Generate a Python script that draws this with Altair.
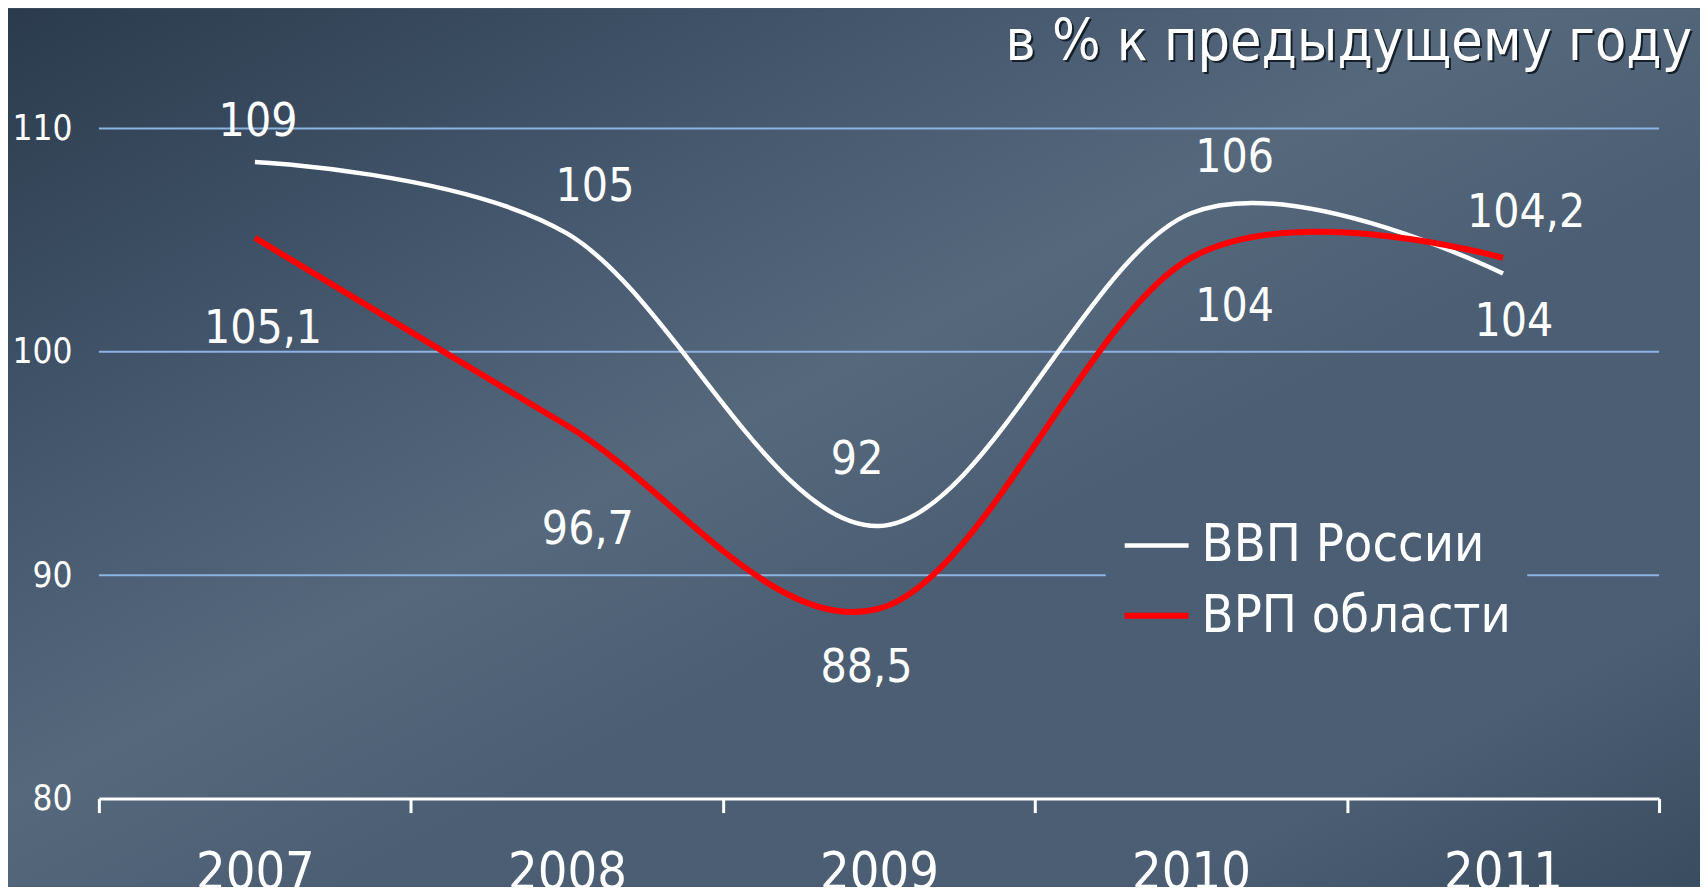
import altair as alt
import pandas as pd

# ---- data ----
years = [2007, 2008, 2009, 2010, 2011]
series_names = ["ВВП России", "ВРП области"]
gdp_russia = [108.5, 105.3, 92.2, 106.2, 103.5]
grp_region = [105.1, 96.7, 88.5, 104.2, 104.2]

label_text = ["109", "105", "92", "106", "104", "105,1", "96,7", "88,5", "104", "104,2"]
label_x = [2007.01, 2008.09, 2008.93, 2010.14, 2011.035, 2007.026, 2008.067, 2008.96, 2010.14, 2011.074]
label_y = [109.67, 106.77, 94.52, 108.03, 100.69, 100.41, 91.39, 85.21, 101.40, 105.57]

y_ticks = [80, 90, 100, 110]
grid_values = [90, 100, 110]
x_bounds = [2006.5, 2007.5, 2008.5, 2009.5, 2010.5, 2011.5]

title_text = ["в % к предыдущему году"]

FONT = "'DejaVu Sans Condensed', 'Liberation Sans', sans-serif"
W, H = 1562, 671
BG = "#46596e"
LEG_BG = "#4b5e73"

rows = []
for name, vals in zip(series_names, [gdp_russia, grp_region]):
    for yr, v in zip(years, vals):
        rows.append({"series": name, "year": yr, "value": v})
lines_df = pd.DataFrame(rows)
labels_df = pd.DataFrame({"text": label_text, "x": label_x, "y": label_y})
grid_df = pd.DataFrame({"g": grid_values})
title_df = pd.DataFrame({"t": title_text})
bg_df = pd.DataFrame({"a": [0]})

xscale = alt.Scale(domain=[x_bounds[0], x_bounds[-1]], nice=False, zero=False)
yscale = alt.Scale(domain=[y_ticks[0], y_ticks[-1]], nice=False, zero=False)

background = alt.Chart(bg_df).mark_rect(
    clip=False,
    color=alt.Gradient(
        gradient="linear", x1=0, y1=0, x2=1, y2=1,
        stops=[
            alt.GradientStop(offset=0, color="#2b3b4d"),
            alt.GradientStop(offset=0.3, color="#475a70"),
            alt.GradientStop(offset=0.45, color="#55687c"),
            alt.GradientStop(offset=0.6, color=LEG_BG),
            alt.GradientStop(offset=0.84, color=LEG_BG),
            alt.GradientStop(offset=1, color="#3a4c60"),
        ],
    ),
).encode(
    x=alt.value(-91), x2=alt.value(W + 41),
    y=alt.value(-120), y2=alt.value(H + 88),
)

grid = alt.Chart(grid_df).mark_rule(color="#8DB3E2", strokeWidth=2).encode(
    y=alt.Y("g:Q", scale=yscale),
)

lines = alt.Chart(lines_df).mark_line(interpolate="cardinal").encode(
    x=alt.X(
        "year:Q", scale=xscale,
        axis=alt.Axis(
            values=x_bounds, title=None, grid=False,
            labelExpr="datum.value < 2011 ? format(datum.value + 0.5, 'd') : ''",
            labelOffset=W / 10, labelFlush=False, labelBound=False, labelOverlap=False,
            labelFont=FONT, labelFontSize=52, labelColor="white",
            labelBaseline="top", labelPadding=35,
            domainColor="white", domainWidth=3,
            tickColor="white", tickWidth=3, tickSize=14,
            zindex=1,
        ),
    ),
    y=alt.Y(
        "value:Q", scale=yscale,
        axis=alt.Axis(
            values=y_ticks, title=None, grid=False, domain=False, ticks=False,
            labelFont=FONT, labelFontSize=35, labelColor="white", labelPadding=27,
            zindex=1,
        ),
    ),
    color=alt.Color(
        "series:N",
        scale=alt.Scale(domain=series_names, range=["#ffffff", "#ff0000"]),
        legend=alt.Legend(
            title=None, orient="none", legendX=1008, legendY=367,
            symbolType="stroke", symbolSize=4096, symbolStrokeWidth=5,
            labelFont=FONT, labelFontSize=52, labelColor="white", labelLimit=600,
            labelOffset=10, rowPadding=9, padding=16,
            fillColor=LEG_BG, zindex=1,
        ),
    ),
    strokeWidth=alt.StrokeWidth(
        "series:N",
        scale=alt.Scale(domain=series_names, range=[4.5, 6]),
        legend=None,
    ),
)

labels = alt.Chart(labels_df).mark_text(
    font=FONT, fontSize=46, color="white", align="center", baseline="alphabetic"
).encode(
    x=alt.X("x:Q", scale=xscale),
    y=alt.Y("y:Q", scale=yscale),
    text="text:N",
)

title_shadow = alt.Chart(title_df).mark_text(
    font=FONT, fontSize=57, color="#15202b", align="right", baseline="alphabetic",
    clip=False,
).encode(x=alt.value(W + 35), y=alt.value(-66), text="t:N")

title = alt.Chart(title_df).mark_text(
    font=FONT, fontSize=57, color="white", align="right", baseline="alphabetic",
    clip=False,
).encode(x=alt.value(W + 33), y=alt.value(-68), text="t:N")

chart = alt.layer(background, grid, lines, labels, title_shadow, title).properties(
    width=W, height=H,
    autosize=alt.AutoSizeParams(type="none"),
    padding={"left": 91, "top": 120, "right": 41, "bottom": 88},
    background=BG,
).configure_view(stroke=None)

chart.save("out.html", embed_options={"renderer": "svg", "actions": False})
